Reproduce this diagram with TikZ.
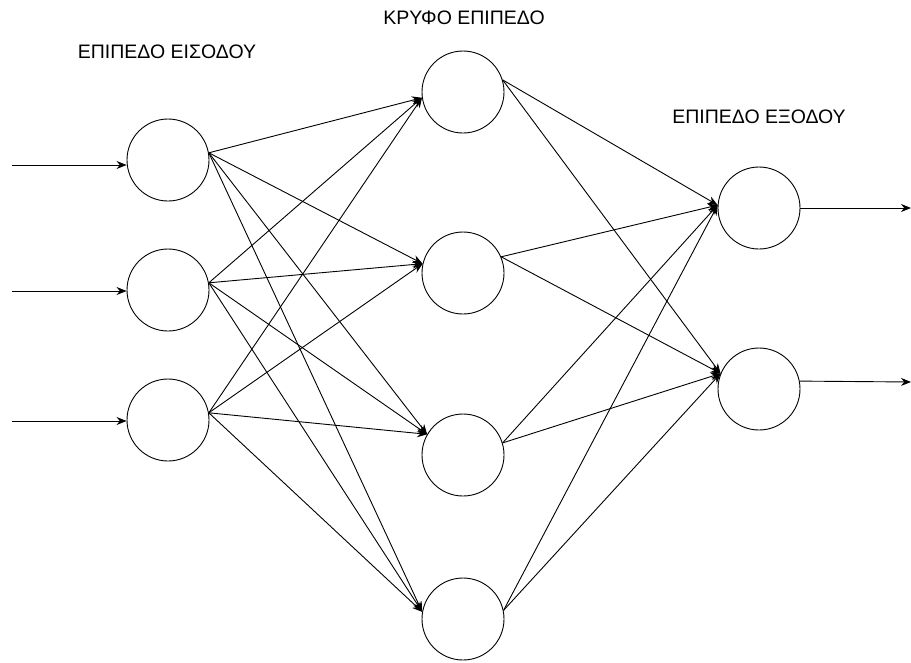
\documentclass[tikz,border=0pt]{standalone}
\usepackage{fontspec}
\setmainfont{Liberation Sans}
\usepackage{tikz}
\usetikzlibrary{arrows.meta,positioning}

\begin{document}
\begin{tikzpicture}[
  x=1pt, y=-1pt,
  neuron/.style={circle, draw, line width=0.9pt, minimum size=82pt, inner sep=0pt},
  layer/.style={font=\fontsize{19.5}{22}\selectfont},
  link/.style={line width=0.9pt, -{Stealth[length=10pt,width=8pt]}},
]
  \useasboundingbox (0,0) rectangle (911,662);

  % Layer titles
  \node[layer] at (167, 52) {ΕΠΙΠΕΔΟ ΕΙΣΟΔΟΥ};
  \node[layer] at (464, 18) {ΚΡΥΦΟ ΕΠΙΠΕΔΟ};
  \node[layer] at (759, 117) {ΕΠΙΠΕΔΟ ΕΞΟΔΟΥ};

  % Neurons
  \foreach \i/\y in {1/160, 2/290, 3/420}
    \node[neuron] (in\i) at (168, \y) {};
  \foreach \i/\y in {1/92, 2/273, 3/455, 4/619}
    \node[neuron] (hid\i) at (463, \y) {};
  \node[neuron] (out1) at (759, 208) {};
  \node[neuron] (out2) at (759, 389) {};

  % Inputs and outputs
  \foreach \i/\y in {1/165, 2/291, 3/421} {
    \coordinate (x\i) at (12, \y);
    \draw[link] (x\i) -- (x\i -| in\i.west);
  }
  \coordinate (y1) at (911, 208);
  \coordinate (y2) at (911, 382);
  \draw[link] (out1.east) -- (y1);
  \draw[link] (out2.11) -- (y2);

  % Input -> hidden
  \foreach \i in {1,2,3}
    \foreach \j/\a in {1/188, 2/167, 3/150, 4/170}
      \draw[link] (in\i.10) -- (hid\j.\a);

  % Hidden -> output
  \foreach \j/\b in {1/17, 2/23, 3/17, 4/12}
    \foreach \k/\a in {1/176, 2/158}
      \draw[link] (hid\j.\b) -- (out\k.\a);
\end{tikzpicture}
\end{document}
